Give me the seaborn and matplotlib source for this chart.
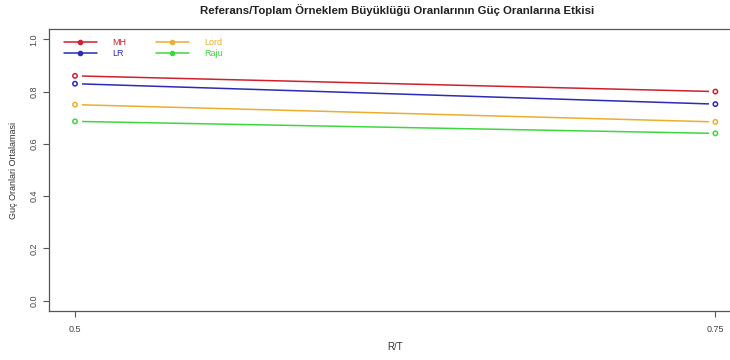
import matplotlib
matplotlib.use("Agg")
import matplotlib.pyplot as plt
from matplotlib.lines import Line2D
import seaborn as sns
import pandas as pd

# Reference/total sample size ratios and mean power per method
rt_ratio = [0.5, 0.75]
methods = ["MH", "LR", "Lord", "Raju"]
power_mh = [0.860, 0.800]
power_lr = [0.830, 0.752]
power_lord = [0.750, 0.684]
power_raju = [0.686, 0.640]
colors = ["#D0202E", "#2B2BB8", "#ECAE2E", "#3ED83E"]

y_ticks = [0.0, 0.2, 0.4, 0.6, 0.8, 1.0]
x_ticks = [0.5, 0.75]

df = pd.DataFrame({
    "R/T": rt_ratio * 4,
    "Yöntem": [m for m in methods for _ in rt_ratio],
    "Güç": power_mh + power_lr + power_lord + power_raju,
})
palette = dict(zip(methods, colors))

sns.set_theme(style="white")
plt.rcParams["font.family"] = ["Liberation Sans", "DejaVu Sans"]

fig = plt.figure(figsize=(7.3, 3.6), dpi=100)
ax = fig.add_axes([49.4 / 730, 48.8 / 360, 691.6 / 730, 282.4 / 360])

sns.lineplot(data=df, x="R/T", y="Güç", hue="Yöntem", palette=palette,
             linewidth=1.1, legend=False, ax=ax, zorder=2)
# white halos leave the small gap between points and lines
sns.scatterplot(data=df, x="R/T", y="Güç", color="white", s=90,
                linewidth=0, legend=False, ax=ax, zorder=3)
sns.scatterplot(data=df, x="R/T", y="Güç", hue="Yöntem", palette=palette,
                marker="o", s=10, linewidth=1.1, legend=False, ax=ax, zorder=4)
pts = ax.collections[-1]
pts.set_facecolor("none")
pts.set_edgecolor([palette[m] for m in df["Yöntem"]])

ax.set_xlim(0.49, 0.76)
ax.set_ylim(-0.04, 1.04)
ax.set_xticks(x_ticks)
ax.set_xticklabels(["0.5", "0.75"])
ax.set_yticks(y_ticks)
ax.set_yticklabels([f"{v:.1f}" for v in y_ticks], rotation=90, va="center")

grey = "#555555"
for sp in ax.spines.values():
    sp.set_visible(True)
    sp.set_color(grey)
    sp.set_linewidth(0.9)
ax.tick_params(axis="both", which="major", direction="out", length=4,
               width=0.8, color=grey, labelcolor="#444444", labelsize=6.5,
               bottom=True, left=True)
ax.tick_params(axis="x", pad=6)
ax.tick_params(axis="y", pad=4)

ax.set_xlabel("R/T", fontsize=7, color="#333333", labelpad=6)
ax.set_ylabel("Guç Oranlari Ortalamasi", fontsize=6.5, color="#333333",
              labelpad=8)
fig.suptitle("Referans/Toplam Örneklem Büyüklüğü Oranlarının Güç Oranlarına Etkisi",
             x=397 / 730, y=1 - 4 / 360, fontsize=8.2, fontweight="bold",
             color="#222222", va="top")

handles = [Line2D([0], [0], color=c, lw=1.1, marker="o", markersize=3)
           for c in colors]
leg = ax.legend(handles, methods, ncol=2, frameon=False, loc="upper left",
                bbox_to_anchor=(0.012, 0.99), fontsize=6.5,
                handlelength=3.6, handletextpad=1.75, columnspacing=3.3,
                labelspacing=0.2, borderaxespad=0.3)
for txt, c in zip(leg.get_texts(), colors):
    txt.set_color(c)

fig.savefig("out.png", dpi=100)
